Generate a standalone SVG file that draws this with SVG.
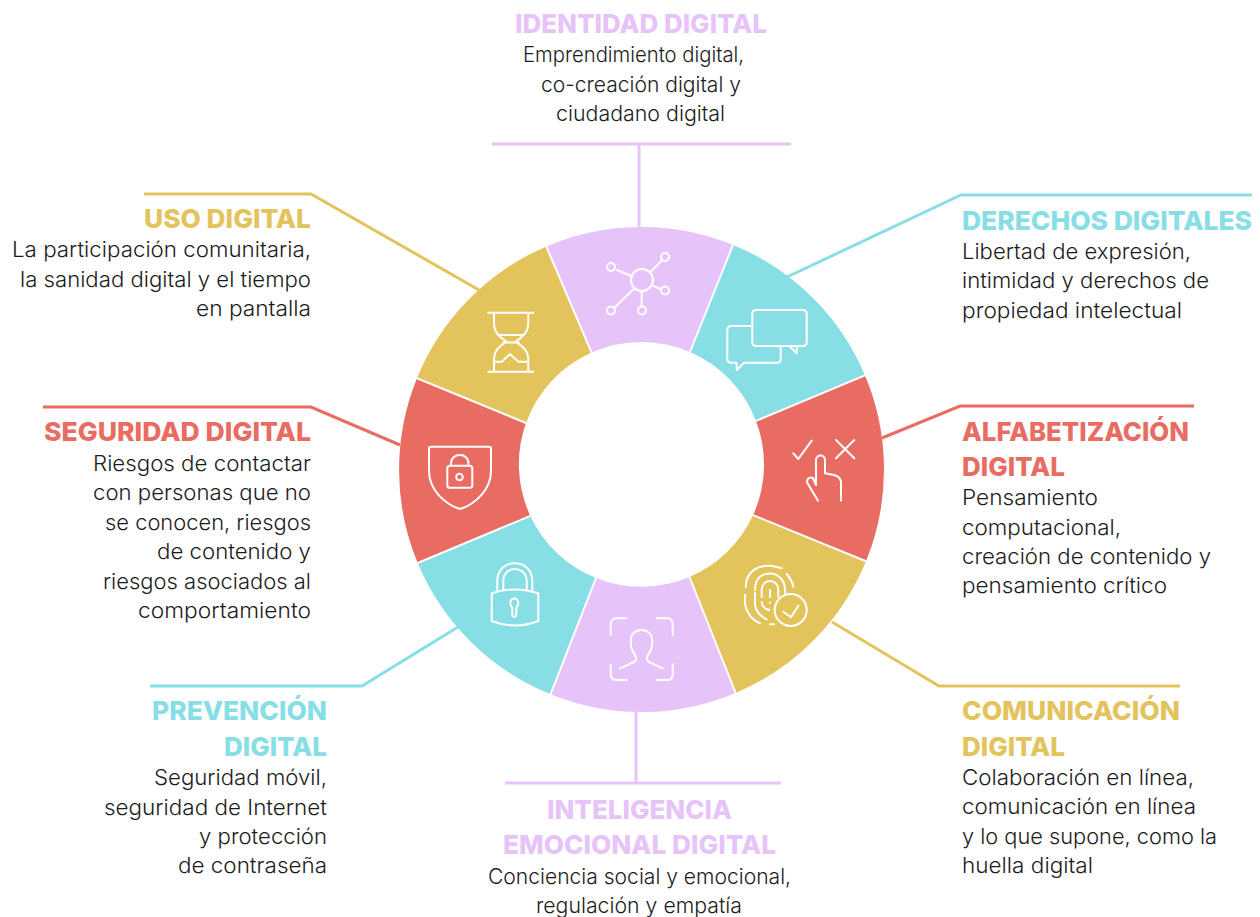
<svg xmlns="http://www.w3.org/2000/svg" width="1260" height="917" viewBox="0 0 1260 917">
<style>
text{font-family:Inter,"Liberation Sans",sans-serif}
.b{font-size:21.5px;font-weight:300;fill:#1c1c1c}
.t{font-size:26px;font-weight:800}
.p{fill:#E6C3F8}.c{fill:#88DEE5}.r{fill:#E96C63}.y{fill:#E3C35C}
.ic{fill:none;stroke:#fff;stroke-width:2;stroke-linecap:round;stroke-linejoin:round}
.l{fill:none;stroke-width:3}
.d{stroke:#fff;stroke-width:2;fill:none}
</style>
<rect width="1260" height="917" fill="#fff"/>
<g id="connectors">
<path class="l" stroke="#E6C3F8" d="M492 144H791M639 144V228"/>
<path class="l" stroke="#88DEE5" d="M787 277L961 195H1252"/>
<path class="l" stroke="#E96C63" d="M882 438L960 406H1194"/>
<path class="l" stroke="#E3C35C" d="M832 622L939 686H1180"/>
<path class="l" stroke="#E6C3F8" d="M636 711V783M505 783H781"/>
<path class="l" stroke="#88DEE5" d="M458 627L362 686H150"/>
<path class="l" stroke="#E96C63" d="M400 445L311 407H43"/>
<path class="l" stroke="#E3C35C" d="M479 290L311 194H144"/>
</g>
<g id="identidad">
<path class="p" d="M546.3 246.5A242.5 242.5 0 0 1 733 244.9L690 352A122.5 122.5 0 0 0 591.6 352.6Z"/>
<g class="ic"><circle cx="642" cy="280" r="11"/><circle cx="611" cy="267" r="4"/><circle cx="665" cy="257" r="4"/><circle cx="665" cy="290.5" r="4"/><circle cx="611" cy="310.5" r="4"/><circle cx="642" cy="310.5" r="4"/><path d="M617 270L631 276M650.5 271.7L661.7 260.7M652.7 285.7L660.7 289M633.7 289L615 307.3M641.7 291.3V306"/></g>
<text class="t p" x="515" y="33" textLength="252" lengthAdjust="spacingAndGlyphs">IDENTIDAD DIGITAL</text>
<text class="b" x="523" y="62" textLength="221" lengthAdjust="spacingAndGlyphs">Emprendimiento digital,</text>
<text class="b" x="541" y="92" textLength="200" lengthAdjust="spacingAndGlyphs">co-creación digital y</text>
<text class="b" x="556" y="121" textLength="169" lengthAdjust="spacingAndGlyphs">ciudadano digital</text>
</g>
<g id="derechos">
<path class="c" d="M733 244.9A242.5 242.5 0 0 1 865 375.4L756 420.9A122.5 122.5 0 0 0 690 352Z"/>
<g class="ic"><rect x="752.3" y="310" width="54.4" height="36" rx="3.5"/><path d="M789.3 346L796.7 353.3V346M752.3 326H731A3.5 3.5 0 0 0 727.3 329.5V359.2A3.5 3.5 0 0 0 731 362.7H736.7V370L744 362.7H777.2A3.5 3.5 0 0 0 780.7 359.2V346"/></g>
<text class="t c" x="962" y="230" textLength="290" lengthAdjust="spacingAndGlyphs">DERECHOS DIGITALES</text>
<text class="b" x="962" y="259" textLength="229" lengthAdjust="spacingAndGlyphs">Libertad de expresión,</text>
<text class="b" x="962" y="288" textLength="247" lengthAdjust="spacingAndGlyphs">intimidad y derechos de</text>
<text class="b" x="962" y="318" textLength="220" lengthAdjust="spacingAndGlyphs">propiedad intelectual</text>
</g>
<g id="alfabetizacion">
<path class="r" d="M865 375.4A242.5 242.5 0 0 1 866 561.2L753.1 515.1A122.5 122.5 0 0 0 756 420.9Z"/>
<g class="ic"><path d="M793.3 453.3L798.3 459L811.7 440.7M836 440L854.3 458.3M854.3 440L836 458.3M818 500.7L807.5 483.3C806 480 809 476 813 478L816 485V460C816 454 825 454 825 460V473.3L834 475C838 476 841 478 841 483V500.7"/></g>
<text class="t r" x="962" y="441" textLength="227" lengthAdjust="spacingAndGlyphs">ALFABETIZACIÓN</text>
<text class="t r" x="962" y="476" textLength="103" lengthAdjust="spacingAndGlyphs">DIGITAL</text>
<text class="b" x="962" y="505" textLength="136" lengthAdjust="spacingAndGlyphs">Pensamiento</text>
<text class="b" x="962" y="535" textLength="159" lengthAdjust="spacingAndGlyphs">computacional,</text>
<text class="b" x="962" y="564" textLength="249" lengthAdjust="spacingAndGlyphs">creación de contenido y</text>
<text class="b" x="962" y="593" textLength="205" lengthAdjust="spacingAndGlyphs">pensamiento crítico</text>
</g>
<g id="comunicacion">
<path class="y" d="M866 561.2A242.5 242.5 0 0 1 735.7 693L689.5 577A122.5 122.5 0 0 0 753.1 515.1Z"/>
<g class="ic"><circle cx="790.7" cy="610" r="16"/><path d="M783.3 611.7L791 617.3L798.3 605.7"/><path d="M745.7 586.7C746 572 757 565.5 769 565.7C773 565.7 776 566.5 781.7 568.3M786.7 574C790 578 793 583 793.3 586.7M745 595V603C746 612 752 620 760 623.3M755 593V605C756 612 762 617 766.7 619.3M755 590C755 578 762 573.5 770 573.5C778 573.5 785 580 785 590V593M761.7 597V590C761.7 585 765 581 770 581C775 581 778.3 585 778.3 590V597M761.7 602C762 606 765 609 769.3 610M770 590V597M770 602.5V603M770 624.3H774"/></g>
<text class="t y" x="962" y="720" textLength="218" lengthAdjust="spacingAndGlyphs">COMUNICACIÓN</text>
<text class="t y" x="962" y="756" textLength="103" lengthAdjust="spacingAndGlyphs">DIGITAL</text>
<text class="b" x="962" y="785" textLength="232" lengthAdjust="spacingAndGlyphs">Colaboración en línea,</text>
<text class="b" x="962" y="814" textLength="234" lengthAdjust="spacingAndGlyphs">comunicación en línea</text>
<text class="b" x="962" y="844" textLength="255" lengthAdjust="spacingAndGlyphs">y lo que supone, como la</text>
<text class="b" x="962" y="873" textLength="131" lengthAdjust="spacingAndGlyphs">huella digital</text>
</g>
<g id="inteligencia">
<path class="p" d="M735.7 693A242.5 242.5 0 0 1 550.5 694.3L596 578A122.5 122.5 0 0 0 689.5 577Z"/>
<g class="ic"><path d="M626.7 618.3H616A5.3 5.3 0 0 0 610.7 623.6V635M656.7 618.3H667.4A5.3 5.3 0 0 1 672.7 623.6V635M610.7 664.3V674.7A5.3 5.3 0 0 0 616 680H626.7M672.7 664.3V674.7A5.3 5.3 0 0 1 667.4 680H656.7M620 668.3L634 662C637 660.5 636.5 657 634.5 654C631.5 650 630.7 647 630.7 641C630.7 634 635.5 630 641.5 630C647.5 630 652.3 634 652.3 641C652.3 647 651.5 650 648.5 654C646.5 657 646 660.5 649 662L662.7 668.3"/></g>
<text class="t p" x="547" y="819" textLength="185" lengthAdjust="spacingAndGlyphs">INTELIGENCIA</text>
<text class="t p" x="503" y="854" textLength="273" lengthAdjust="spacingAndGlyphs">EMOCIONAL DIGITAL</text>
<text class="b" x="488" y="884" textLength="303" lengthAdjust="spacingAndGlyphs">Conciencia social y emocional,</text>
<text class="b" x="536" y="913" textLength="206" lengthAdjust="spacingAndGlyphs">regulación y empatía</text>
</g>
<g id="prevencion">
<path class="c" d="M550.5 694.3A242.5 242.5 0 0 1 417.7 563L530.3 515.9A122.5 122.5 0 0 0 596 578Z"/>
<g class="ic"><path d="M491.7 593.3Q515 585.5 538.3 593.3V621Q515 630 491.7 621ZM497.3 591V581C497.3 570 505 563.3 514.8 563.3C524.6 563.3 532.3 570 532.3 581V591M503.3 589.7V581C503.3 574 508 569 514.8 569C521.6 569 526.7 574 526.7 581V589.7M512.3 607.5V614.7C512.3 617.4 516.3 617.4 516.3 614.7V607.5C520 604 518 598.5 514.3 598.5C510.5 598.5 508.5 604 512.3 607.5Z"/></g>
<text class="t c" x="152" y="720" textLength="175" lengthAdjust="spacingAndGlyphs">PREVENCIÓN</text>
<text class="t c" x="224" y="756" textLength="103" lengthAdjust="spacingAndGlyphs">DIGITAL</text>
<text class="b" x="154" y="785" textLength="173" lengthAdjust="spacingAndGlyphs">Seguridad móvil,</text>
<text class="b" x="104" y="815" textLength="223" lengthAdjust="spacingAndGlyphs">seguridad de Internet</text>
<text class="b" x="199" y="844" textLength="128" lengthAdjust="spacingAndGlyphs">y protección</text>
<text class="b" x="178" y="873" textLength="149" lengthAdjust="spacingAndGlyphs">de contraseña</text>
</g>
<g id="seguridad">
<path class="r" d="M417.7 563A242.5 242.5 0 0 1 417 378.3L526 423A122.5 122.5 0 0 0 530.3 515.9Z"/>
<g class="ic"><path d="M431 446.7H489A2 2 0 0 1 491 448.7V471C491 489 476 504 460 509C444 504 429 489 429 471V448.7A2 2 0 0 1 431 446.7Z"/><rect x="447.3" y="465.7" width="25" height="22" rx="2.5"/><path d="M451 465.7V463.5C451 458 455 455 459.8 455C464.6 455 468.5 458 468.5 463.5V465.7"/><circle cx="459.5" cy="477" r="3.3"/></g>
<text class="t r" x="44" y="441" textLength="267" lengthAdjust="spacingAndGlyphs">SEGURIDAD DIGITAL</text>
<text class="b" x="93" y="471" textLength="218" lengthAdjust="spacingAndGlyphs">Riesgos de contactar</text>
<text class="b" x="93" y="500" textLength="218" lengthAdjust="spacingAndGlyphs">con personas que no</text>
<text class="b" x="105" y="530" textLength="206" lengthAdjust="spacingAndGlyphs">se conocen, riesgos</text>
<text class="b" x="157" y="559" textLength="154" lengthAdjust="spacingAndGlyphs">de contenido y</text>
<text class="b" x="103" y="589" textLength="208" lengthAdjust="spacingAndGlyphs">riesgos asociados al</text>
<text class="b" x="138" y="618" textLength="173" lengthAdjust="spacingAndGlyphs">comportamiento</text>
</g>
<g id="uso">
<path class="y" d="M417 378.3A242.5 242.5 0 0 1 546.3 246.5L591.6 352.6A122.5 122.5 0 0 0 526 423Z"/>
<g class="ic"><path d="M488.3 312.7H533.3M488.3 371.7H533.3M494 312.7V323C494 333 500 337 506.5 341.7C500 346 494 350 494 360V371.7M528.3 312.7V323C528.3 333 522 337 515.5 341.7C522 346 528.3 350 528.3 360V371.7M498 335H524M503 342.5H519M494 361.7H501.7L510 354L518.5 361.7H528.3"/></g>
<text class="t y" x="144" y="228" textLength="167" lengthAdjust="spacingAndGlyphs">USO DIGITAL</text>
<text class="b" x="12" y="257" textLength="299" lengthAdjust="spacingAndGlyphs">La participación comunitaria,</text>
<text class="b" x="20" y="287" textLength="291" lengthAdjust="spacingAndGlyphs">la sanidad digital y el tiempo</text>
<text class="b" x="196" y="316" textLength="115" lengthAdjust="spacingAndGlyphs">en pantalla</text>
</g>
<path id="dividers" class="d" d="M546.3 246.5L591.6 352.6M733 244.9L690 352M865 375.4L756 420.9M866 561.2L753.1 515.1M735.7 693L689.5 577M550.5 694.3L596 578M417.7 563L530.3 515.9M417 378.3L526 423"/>
</svg>
